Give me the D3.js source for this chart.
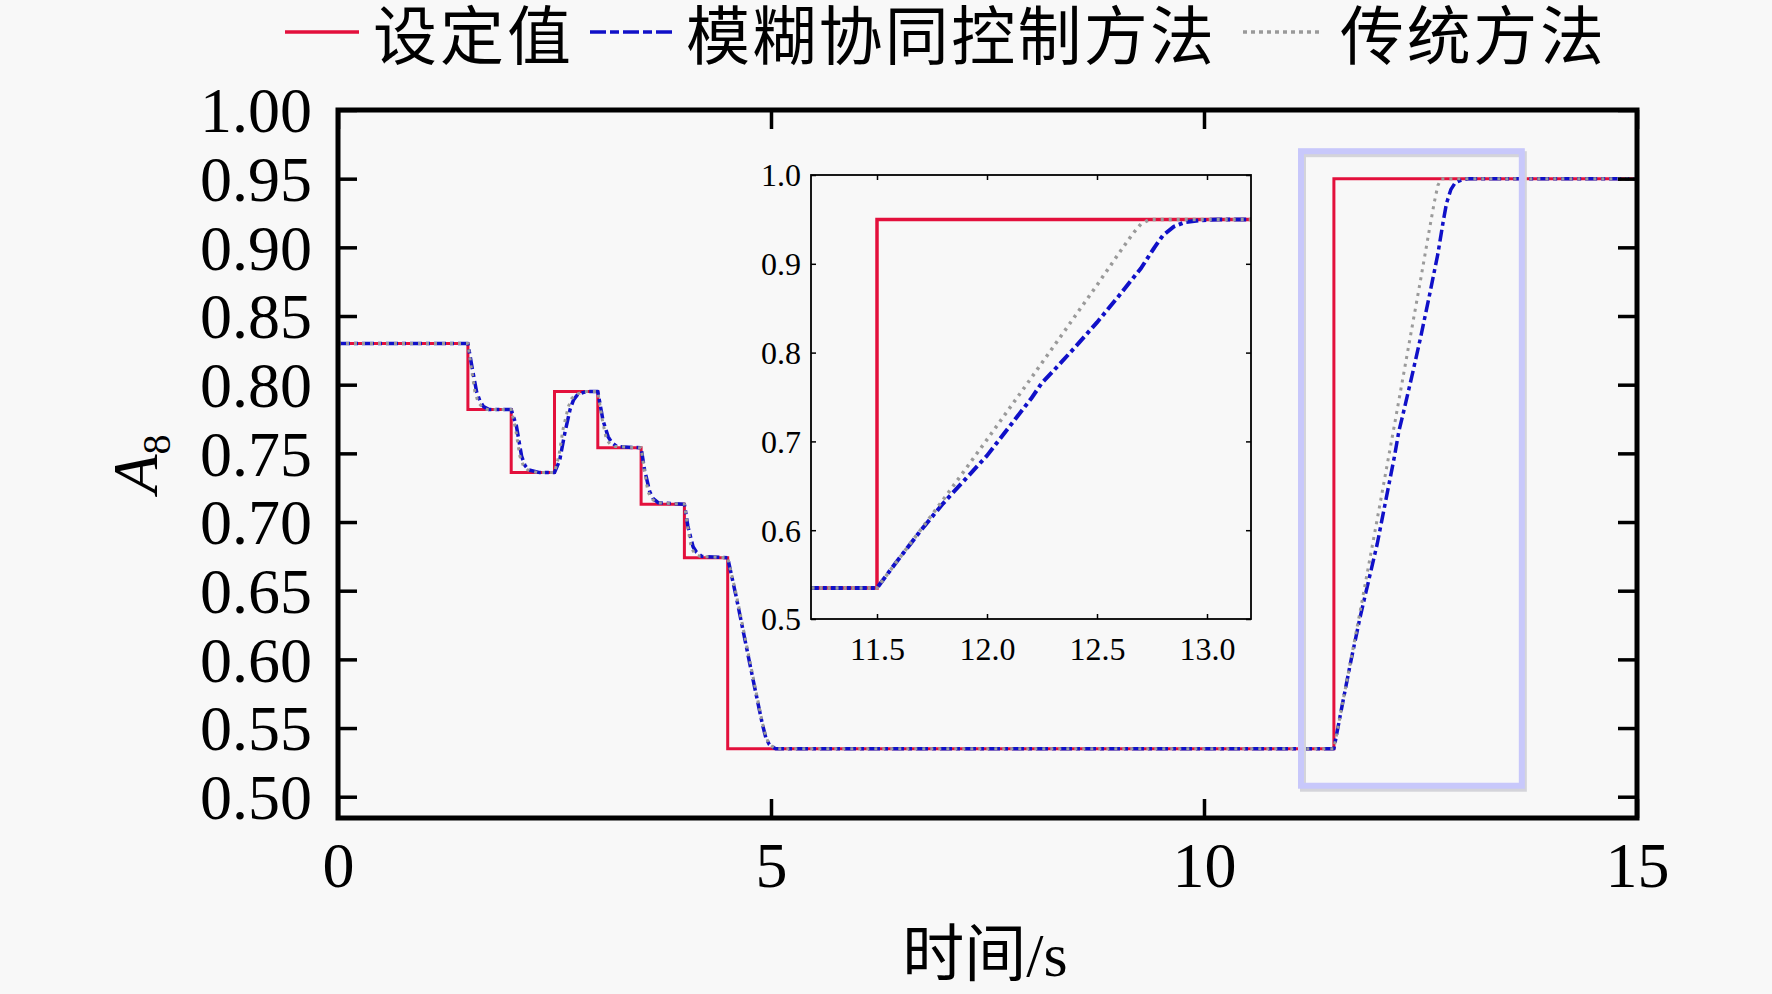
<!DOCTYPE html>
<html>
<head>
<meta charset="utf-8">
<script src="https://cdn.jsdelivr.net/npm/d3@7"></script>
<style>
  html, body { margin: 0; padding: 0; background: #f8f8f8; }
  svg { display: block; }
</style>
</head>
<body>
<svg id="chart" width="1772" height="994"></svg>
<script>
// ---------- data ----------
const setT = [0, 1.5, 2.0, 2.5, 3.0, 3.5, 4.0, 4.5, 11.5, 15];
const setV = [0.830, 0.782, 0.736, 0.795, 0.754, 0.713, 0.674, 0.535, 0.950, 0.950];

const fuzzyT = [0, 1.5, 1.55, 1.6, 1.64, 1.68, 1.74, 2.0, 2.06, 2.12, 2.16, 2.2, 2.33, 2.5, 2.56, 2.62, 2.68, 2.72, 2.77, 2.87, 3.0, 3.06, 3.12, 3.16, 3.22, 3.5, 3.54, 3.6, 3.64, 3.7, 4.0, 4.04, 4.1, 4.14, 4.2, 4.5, 4.6, 4.7, 4.8, 4.9, 4.94, 4.98, 5.05,
  11.5, 11.6, 11.7, 11.8, 11.9, 12.0, 12.1, 12.2, 12.25, 12.3, 12.4, 12.5, 12.6, 12.7, 12.76, 12.8, 12.85, 12.9, 12.97, 13.05, 15];
const fuzzyV = [0.830, 0.830, 0.812, 0.795, 0.788, 0.784, 0.782, 0.782, 0.770, 0.748, 0.741, 0.738, 0.736, 0.736, 0.745, 0.765, 0.782, 0.789, 0.793, 0.795, 0.795, 0.774, 0.762, 0.758, 0.755, 0.754, 0.738, 0.722, 0.717, 0.714, 0.713, 0.697, 0.682, 0.678, 0.675, 0.674, 0.645, 0.614, 0.583, 0.553, 0.543, 0.538, 0.535,
  0.535, 0.568, 0.600, 0.630, 0.657, 0.684, 0.716, 0.748, 0.766, 0.779, 0.806, 0.834, 0.864, 0.895, 0.918, 0.932, 0.942, 0.947, 0.949, 0.950, 0.950];

const tradT = [0, 1.5, 1.54, 1.58, 1.62, 1.66, 1.72, 2.0, 2.05, 2.1, 2.14, 2.19, 2.3, 2.5, 2.55, 2.6, 2.66, 2.7, 2.75, 2.85, 3.0, 3.05, 3.1, 3.14, 3.2, 3.5, 3.54, 3.58, 3.62, 3.68, 4.0, 4.04, 4.08, 4.12, 4.18, 4.5, 4.6, 4.7, 4.8, 4.9, 4.94, 4.98, 5.05,
  11.5, 11.6, 11.7, 11.8, 12.0, 12.2, 12.4, 12.5, 12.6, 12.66, 12.7, 12.74, 15];
const tradV = [0.830, 0.830, 0.812, 0.795, 0.787, 0.784, 0.782, 0.782, 0.768, 0.748, 0.741, 0.738, 0.736, 0.736, 0.748, 0.768, 0.784, 0.790, 0.793, 0.795, 0.795, 0.775, 0.760, 0.757, 0.755, 0.754, 0.737, 0.722, 0.717, 0.714, 0.713, 0.696, 0.681, 0.677, 0.675, 0.674, 0.647, 0.616, 0.585, 0.554, 0.544, 0.538, 0.535,
  0.535, 0.568, 0.601, 0.634, 0.702, 0.771, 0.841, 0.876, 0.912, 0.933, 0.945, 0.950, 0.950];

const xTicks = [0, 5, 10, 15];
const yTicks = [0.50, 0.55, 0.60, 0.65, 0.70, 0.75, 0.80, 0.85, 0.90, 0.95, 1.00];
const insetXTicks = [11.5, 12.0, 12.5, 13.0];
const insetYTicks = [0.5, 0.6, 0.7, 0.8, 0.9, 1.0];
const legendLabels = ["设定值", "模糊协同控制方法", "传统方法"];
const xTitle = "时间/s";
const yTitleMain = "A";
const yTitleSub = "8";
const zoomBoxT = [11.12, 13.67];
const zoomBoxV = [0.508, 0.970];

// ---------- setup ----------
const svg = d3.select("#chart");
const serif = "'Liberation Serif', 'Times New Roman', serif";
const cjk = "'Liberation Serif', 'Noto Sans CJK SC', serif";

svg.append("rect").attr("width", 1772).attr("height", 994).attr("fill", "#f8f8f8");

const M = { left: 338, right: 1637, top: 110, bottom: 818 };
const x = d3.scaleLinear().domain([0, 15]).range([M.left, M.right]);
const y = d3.scaleLinear().domain([0.4845, 1.0]).range([M.bottom, M.top]);

const zip = (ts, vs) => ts.map((t, i) => ({ t, v: vs[i] }));
const setData = zip(setT, setV);
const fuzzyData = zip(fuzzyT, fuzzyV);
const tradData = zip(tradT, tradV);

const styles = {
  set:   { stroke: "#e3103c", dash: null, curve: d3.curveStepAfter },
  fuzzy: { stroke: "#1010c8", dash: "12,4,4,4", curve: d3.curveLinear },
  trad:  { stroke: "#9a9a9a", dash: "3,5", curve: d3.curveLinear }
};

function drawLines(g, xs, ys, w) {
  const mk = (curve) => d3.line().x(d => xs(d.t)).y(d => ys(d.v)).curve(curve);
  g.append("path").datum(setData).attr("fill", "none")
    .attr("stroke", styles.set.stroke).attr("stroke-width", w)
    .attr("d", mk(styles.set.curve));
  g.append("path").datum(fuzzyData).attr("fill", "none")
    .attr("stroke", styles.fuzzy.stroke).attr("stroke-width", w + 0.5)
    .attr("stroke-linejoin", "round")
    .attr("stroke-dasharray", styles.fuzzy.dash)
    .attr("d", mk(styles.fuzzy.curve));
  g.append("path").datum(tradData).attr("fill", "none")
    .attr("stroke", styles.trad.stroke).attr("stroke-width", w)
    .attr("stroke-linejoin", "round")
    .attr("stroke-dasharray", styles.trad.dash)
    .attr("d", mk(styles.trad.curve));
}

// main clip
svg.append("clipPath").attr("id", "mainClip").append("rect")
  .attr("x", M.left).attr("y", M.top).attr("width", M.right - M.left).attr("height", M.bottom - M.top);

const plot = svg.append("g").attr("clip-path", "url(#mainClip)");
drawLines(plot, x, y, 3);

// zoom box
const bx0 = x(zoomBoxT[0]), bx1 = x(zoomBoxT[1]), by0 = y(zoomBoxV[1]), by1 = y(zoomBoxV[0]);
svg.append("rect").attr("x", bx0 + 2).attr("y", by0 + 3).attr("width", bx1 - bx0).attr("height", by1 - by0)
  .attr("fill", "none").attr("stroke", "#d4d4da").attr("stroke-width", 6);
svg.append("rect").attr("x", bx0).attr("y", by0).attr("width", bx1 - bx0).attr("height", by1 - by0)
  .attr("fill", "none").attr("stroke", "#c8c8fb").attr("stroke-width", 6);

// main axes
const TL = 19;
const axG = svg.append("g");
const axisStyle = (g) => {
  g.select(".domain").remove();
  g.selectAll(".tick line").attr("stroke", "#000").attr("stroke-width", 3.5);
  g.selectAll(".tick text").attr("font-family", serif).attr("font-size", 64).attr("fill", "#000");
};
axG.append("g").attr("transform", `translate(0,${M.bottom})`)
  .call(d3.axisBottom(x).tickValues(xTicks).tickFormat(d3.format("d")).tickSizeInner(-TL).tickSizeOuter(0).tickPadding(24))
  .call(axisStyle)
  .call(g => g.selectAll(".tick text").attr("dy", "0.71em"));
axG.append("g").attr("transform", `translate(0,${M.top})`)
  .call(d3.axisTop(x).tickValues(xTicks).tickFormat("").tickSizeInner(-TL).tickSizeOuter(0))
  .call(axisStyle);
axG.append("g").attr("transform", `translate(${M.left},0)`)
  .call(d3.axisLeft(y).tickValues(yTicks).tickFormat(d3.format(".2f")).tickSizeInner(-TL).tickSizeOuter(0).tickPadding(26))
  .call(axisStyle)
  .call(g => g.selectAll(".tick text").attr("dy", "0.34em"));
axG.append("g").attr("transform", `translate(${M.right},0)`)
  .call(d3.axisRight(y).tickValues(yTicks).tickFormat("").tickSizeInner(-TL).tickSizeOuter(0))
  .call(axisStyle);
axG.append("rect").attr("x", M.left).attr("y", M.top).attr("width", M.right - M.left).attr("height", M.bottom - M.top)
  .attr("fill", "none").attr("stroke", "#000").attr("stroke-width", 5);

// axis titles
svg.append("text").attr("x", 985).attr("y", 976).attr("text-anchor", "middle")
  .attr("font-family", cjk).attr("font-size", 62).attr("fill", "#000").text(xTitle);
const yt = svg.append("text").attr("transform", "translate(157,464) rotate(-90)")
  .attr("text-anchor", "middle").attr("font-family", serif).attr("font-size", 64).attr("fill", "#000");
yt.append("tspan").attr("font-style", "italic").text(yTitleMain);
yt.append("tspan").attr("font-size", 40).attr("dy", 13).text(yTitleSub);

// ---------- inset ----------
const I = { left: 811, right: 1251, top: 175, bottom: 619 };
const xi = d3.scaleLinear().domain([11.2, 13.2]).range([I.left, I.right]);
const yi = d3.scaleLinear().domain([0.5, 1.0]).range([I.bottom, I.top]);
svg.append("rect").attr("x", I.left).attr("y", I.top).attr("width", I.right - I.left).attr("height", I.bottom - I.top)
  .attr("fill", "#f8f8f8");
svg.append("clipPath").attr("id", "insetClip").append("rect")
  .attr("x", I.left).attr("y", I.top).attr("width", I.right - I.left).attr("height", I.bottom - I.top);
const iplot = svg.append("g").attr("clip-path", "url(#insetClip)");
drawLines(iplot, xi, yi, 3.5);

const ITL = 5;
const insetAxisStyle = (g) => {
  g.select(".domain").remove();
  g.selectAll(".tick line").attr("stroke", "#000").attr("stroke-width", 1.5);
  g.selectAll(".tick text").attr("font-family", serif).attr("font-size", 32).attr("fill", "#000");
};
svg.append("g").attr("transform", `translate(0,${I.bottom})`)
  .call(d3.axisBottom(xi).tickValues(insetXTicks).tickFormat(d3.format(".1f")).tickSizeInner(-ITL).tickSizeOuter(0).tickPadding(18))
  .call(insetAxisStyle)
  .call(g => g.selectAll(".tick text").attr("dy", "0.71em"));
svg.append("g").attr("transform", `translate(0,${I.top})`)
  .call(d3.axisTop(xi).tickValues(insetXTicks).tickFormat("").tickSizeInner(-ITL).tickSizeOuter(0))
  .call(insetAxisStyle);
svg.append("g").attr("transform", `translate(${I.left},0)`)
  .call(d3.axisLeft(yi).tickValues(insetYTicks).tickFormat(d3.format(".1f")).tickSizeInner(-ITL).tickSizeOuter(0).tickPadding(10))
  .call(insetAxisStyle)
  .call(g => g.selectAll(".tick text").attr("dy", "0.34em"));
svg.append("g").attr("transform", `translate(${I.right},0)`)
  .call(d3.axisRight(yi).tickValues(insetYTicks).tickFormat("").tickSizeInner(-ITL).tickSizeOuter(0))
  .call(insetAxisStyle);
svg.append("rect").attr("x", I.left).attr("y", I.top).attr("width", I.right - I.left).attr("height", I.bottom - I.top)
  .attr("fill", "none").attr("stroke", "#000").attr("stroke-width", 1.8);

// ---------- legend ----------
const legendItems = [
  { key: "set",   x0: 285,  x1: 359,  tx: 373 },
  { key: "fuzzy", x0: 590,  x1: 672,  tx: 686 },
  { key: "trad",  x0: 1243, x1: 1320, tx: 1340 }
];
const lg = svg.append("g");
legendItems.forEach((it, i) => {
  const st = styles[it.key];
  lg.append("line").attr("x1", it.x0).attr("x2", it.x1).attr("y1", 32).attr("y2", 32)
    .attr("stroke", st.stroke).attr("stroke-width", 3.5)
    .attr("stroke-dasharray", it.key === "fuzzy" ? "16,4,9,4" : (it.key === "trad" ? "4,4" : null));
  lg.append("text").attr("x", it.tx).attr("y", 59)
    .attr("font-family", "'Noto Sans CJK SC', sans-serif").attr("font-size", 64).attr("fill", "#000")
    .attr("textLength", legendLabels[i].length * 66).attr("lengthAdjust", "spacing")
    .text(legendLabels[i]);
});
</script>
</body>
</html>
